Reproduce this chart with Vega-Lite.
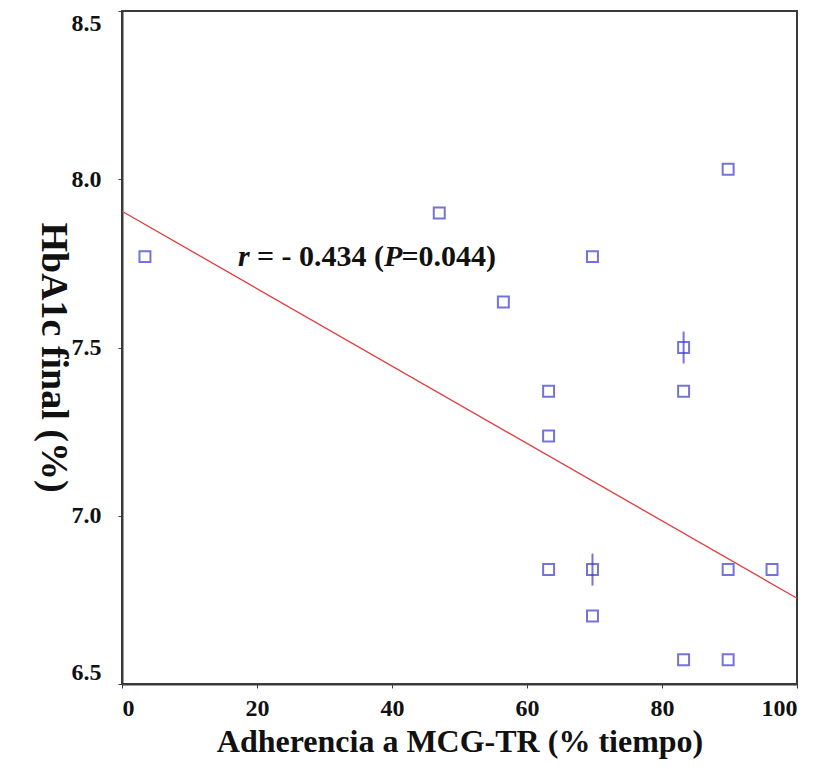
{
  "$schema": "https://vega.github.io/schema/vega-lite/v6.json",
  "width": 675,
  "height": 673,
  "autosize": {"type": "none"},
  "padding": {"left": 122, "top": 11, "right": 19, "bottom": 85},
  "background": "white",
  "config": {
    "view": {"stroke": "#3a3a3a", "strokeWidth": 2},
    "font": "Liberation Serif",
    "axis": {
      "grid": false,
      "domainColor": "#3a3a3a",
      "domainWidth": 2,
      "tickColor": "#3a3a3a",
      "tickSize": 4,
      "labelFont": "Liberation Serif",
      "labelFontWeight": "bold",
      "labelFontSize": 24,
      "labelColor": "#111",
      "titleFont": "Liberation Serif",
      "titleFontWeight": "bold",
      "titleColor": "#111"
    }
  },
  "datasets": {
    "pts": [
      {"adh": 3.4, "hba": 7.77},
      {"adh": 47.0, "hba": 7.9},
      {"adh": 56.5, "hba": 7.635},
      {"adh": 69.7, "hba": 7.77},
      {"adh": 63.2, "hba": 7.37},
      {"adh": 63.2, "hba": 7.237},
      {"adh": 63.2, "hba": 6.84},
      {"adh": 69.7, "hba": 6.84},
      {"adh": 69.7, "hba": 6.702},
      {"adh": 83.2, "hba": 7.5},
      {"adh": 83.2, "hba": 7.37},
      {"adh": 83.2, "hba": 6.572},
      {"adh": 89.8, "hba": 8.03},
      {"adh": 89.8, "hba": 6.84},
      {"adh": 89.8, "hba": 6.572},
      {"adh": 96.3, "hba": 6.84}
    ],
    "dup": [
      {"adh": 69.7, "hba": 6.84},
      {"adh": 83.2, "hba": 7.5}
    ],
    "fit": [
      {"adh": 0, "hba": 7.905},
      {"adh": 100, "hba": 6.755}
    ],
    "ann_it": [
      {"x": 17.2, "y": 7.768, "t": "r"},
      {"x": 38.8, "y": 7.768, "t": "P"}
    ],
    "ann_b": [
      {"x": 20.0, "y": 7.768, "t": "= - 0.434 ("},
      {"x": 41.4, "y": 7.768, "t": "=0.044)"}
    ]
  },
  "layer": [
    {
      "data": {"name": "fit"},
      "mark": {"type": "line", "color": "#e23a3a", "strokeWidth": 1.3},
      "encoding": {
        "x": {
          "field": "adh", "type": "quantitative",
          "scale": {"domain": [0, 100], "nice": false},
          "axis": {
            "values": [0, 20, 40, 60, 80, 100],
            "labelFontSize": 24,
            "labelFontWeight": "bold",
            "labelPadding": 8,
            "title": "Adherencia a MCG-TR (% tiempo)",
            "titleFontSize": 32,
            "titlePadding": 6
          }
        },
        "y": {
          "field": "hba", "type": "quantitative",
          "scale": {"domain": [6.5, 8.5], "nice": false, "zero": false},
          "axis": {
            "values": [6.5, 7.0, 7.5, 8.0, 8.5],
            "format": ".1f",
            "labelFontSize": 24,
            "labelFontWeight": "bold",
            "labelFlush": true,
            "labelPadding": 17,
            "title": "HbA1c final (%)",
            "titleFontSize": 38,
            "titleAngle": 90,
            "titleX": -70,
            "titleY": 346,
            "titleBaseline": "middle",
            "titleAlign": "center"
          }
        }
      }
    },
    {
      "data": {"name": "pts"},
      "mark": {"type": "point", "shape": "square", "filled": false, "size": 120, "strokeWidth": 2, "color": "#3a3ac8"},
      "encoding": {
        "x": {"field": "adh", "type": "quantitative"},
        "y": {"field": "hba", "type": "quantitative"}
      }
    },
    {
      "data": {"name": "dup"},
      "mark": {"type": "tick", "orient": "vertical", "size": 32, "thickness": 2, "color": "#3a3ac8"},
      "encoding": {
        "x": {"field": "adh", "type": "quantitative"},
        "y": {"field": "hba", "type": "quantitative"}
      }
    },
    {
      "data": {"name": "ann_it"},
      "mark": {"type": "text", "align": "left", "baseline": "middle", "font": "Liberation Serif", "fontSize": 30, "fontWeight": "bold", "fontStyle": "italic", "color": "#111"},
      "encoding": {
        "x": {"field": "x", "type": "quantitative"},
        "y": {"field": "y", "type": "quantitative"},
        "text": {"field": "t"}
      }
    },
    {
      "data": {"name": "ann_b"},
      "mark": {"type": "text", "align": "left", "baseline": "middle", "font": "Liberation Serif", "fontSize": 30, "fontWeight": "bold", "color": "#111"},
      "encoding": {
        "x": {"field": "x", "type": "quantitative"},
        "y": {"field": "y", "type": "quantitative"},
        "text": {"field": "t"}
      }
    }
  ]
}
